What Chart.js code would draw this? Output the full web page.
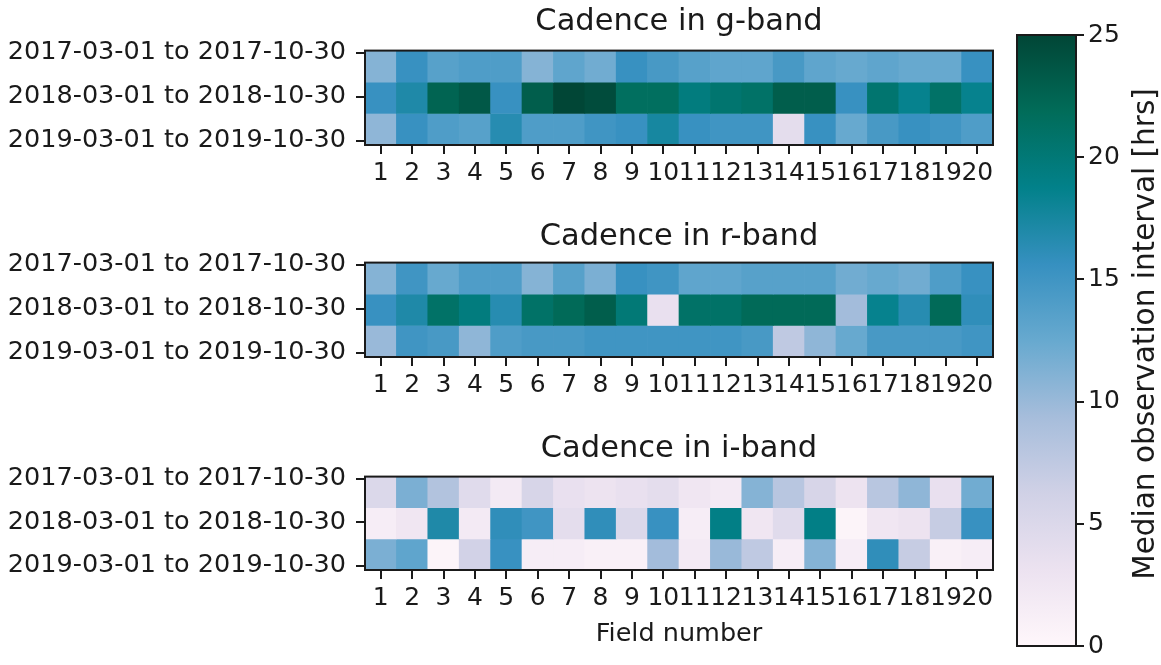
<!DOCTYPE html>
<html><head><meta charset="utf-8">
<script src="https://cdn.jsdelivr.net/npm/chart.js@4.4.1/dist/chart.umd.min.js"></script>
<style>
html,body{margin:0;padding:0;background:#fff;width:1161px;height:665px;overflow:hidden;}
.p{position:absolute;}
</style></head><body>
<div class="p" style="left:0;top:0;width:1000px;height:200px"><canvas id="cg"></canvas></div>
<div class="p" style="left:0;top:215px;width:1000px;height:197px"><canvas id="cr"></canvas></div>
<div class="p" style="left:0;top:427px;width:1000px;height:227px"><canvas id="ci"></canvas></div>
<div class="p" style="left:1000px;top:0;width:161px;height:665px"><canvas id="cb"></canvas></div>
<script>
const fields = ['1','2','3','4','5','6','7','8','9','10','11','12','13','14','15','16','17','18','19','20'];
const periods = ['2017-03-01 to 2017-10-30','2018-03-01 to 2018-10-30','2019-03-01 to 2019-10-30'];

const g2017 = [11, 15.5, 13.5, 14, 14, 11, 13, 12, 15.5, 14.5, 13.5, 13, 13, 14.5, 13, 12.5, 13, 12.5, 12.5, 15.5];
const g2018 = [15.5, 17, 22.5, 23.5, 15.5, 23, 25, 24.5, 21.5, 21.5, 19.5, 20.5, 21, 23, 23, 15.5, 20.5, 18.5, 21, 18.5];
const g2019 = [10.5, 15.5, 14, 13.5, 16.5, 14, 14, 15, 15.5, 17.5, 15.5, 15, 15, 4, 15.5, 12.5, 14.5, 15.5, 15, 14];

const r2017 = [11, 15, 12.5, 14, 14, 11, 13.5, 11.5, 15.5, 15, 13, 13, 13.5, 13.5, 13.5, 12, 12.5, 12, 14, 15.5];
const r2018 = [15.5, 17, 21, 19.5, 16.5, 21, 22, 23, 20, 3.5, 21, 21, 22, 22, 22, 9.5, 18.5, 16.5, 22, 16];
const r2019 = [10, 15, 14.5, 10.5, 14, 14.5, 14.5, 15, 15, 15, 15, 15, 14.5, 7.5, 10.5, 12.5, 14.5, 14.5, 14.5, 15];

const i2017 = [5, 11.5, 8.5, 4.5, 2, 5.5, 3.5, 3, 3.5, 4, 2.5, 2, 11, 8, 5.5, 3, 8, 10.5, 3.5, 12];
const i2018 = [1.5, 2.5, 17, 2, 16, 15, 4, 16, 5, 15.5, 1.5, 19, 2.5, 4.5, 19, 0.5, 2.5, 3, 7, 15.5];
const i2019 = [11.5, 13, 0.5, 6, 15.5, 1.5, 1.5, 1, 1, 9.5, 2, 10, 7.5, 1.5, 11, 1.5, 16, 7, 1, 1.5];

const colorbarTicks = [0, 5, 10, 15, 20, 25];
const vMin = 0, vMax = 25;
const colorbarLabel = 'Median observation interval [hrs]';

// PuBuGn colormap stops
const cmap = [[255,247,251],[236,226,240],[208,209,230],[166,189,219],[103,169,207],[54,144,192],[2,129,138],[1,108,89],[1,70,54]];
function colorFor(v){
  let t = (v - vMin) / (vMax - vMin); t = Math.max(0, Math.min(1, t));
  const p = t * (cmap.length - 1); const i = Math.min(cmap.length - 2, Math.floor(p)); const f = p - i;
  const c = cmap[i].map((a, k) => Math.round(a + (cmap[i+1][k] - a) * f));
  return `rgb(${c[0]},${c[1]},${c[2]})`;
}

const FONT = 'DejaVu Sans';
const INK = '#1a1a1a';
Chart.defaults.font.family = FONT;
Chart.defaults.color = INK;
Chart.defaults.animation = false;

const framePlugin = {id:'frame', afterDatasetsDraw(chart){
  const {ctx, chartArea:a} = chart; ctx.save(); ctx.strokeStyle = INK; ctx.lineWidth = 2;
  ctx.strokeRect(a.left, a.top, a.right - a.left, a.bottom - a.top); ctx.restore();
}};

const yMin = -0.05, yMax = 2.1;
function makeHeat(id, title, rows, titlePadBottom, xAxisHeight, xTitle){
  const step = (yMax - yMin) / rows.length;
  const datasets = rows.map((vals, r) => ({
    data: vals.map(() => [yMin + r * step, yMin + (r + 1) * step]),
    backgroundColor: vals.map(colorFor),
    borderWidth: 0, barPercentage: 1, categoryPercentage: 1, grouped: false
  }));
  new Chart(document.getElementById(id), {
    type: 'bar',
    data: {labels: fields, datasets},
    plugins: [framePlugin],
    options: {
      responsive: true, maintainAspectRatio: false,
      layout: {padding: {left: 0, right: 7, top: 0, bottom: 0}},
      plugins: {
        legend: {display: false}, tooltip: {enabled: false},
        title: {display: true, text: title, fullSize: false, color: INK,
          font: {family: FONT, size: 30.5, weight: 'normal', lineHeight: 1.2},
          padding: {top: 4, bottom: titlePadBottom}}
      },
      scales: {
        x: {type: 'category', offset: true,
          grid: {display: true, offset: false, drawOnChartArea: false, drawTicks: true, tickLength: 9, color: INK, lineWidth: 2},
          border: {display: false},
          ticks: {autoSkip: false, maxRotation: 0, minRotation: 0, padding: 4, color: INK, font: {family: FONT, size: 25}},
          title: {display: !!xTitle, text: xTitle || '', color: INK, font: {family: FONT, size: 25.5}, padding: {top: 0, bottom: 4}},
          afterFit: s => { s.height = xAxisHeight; }
        },
        y: {type: 'linear', min: yMin, max: yMax, reverse: true,
          afterBuildTicks: s => { s.ticks = [0, 1, 2].map(v => ({value: v})); },
          grid: {display: true, drawOnChartArea: false, drawTicks: true, tickLength: 9, color: INK, lineWidth: 2},
          border: {display: false},
          ticks: {padding: 10, color: INK, font: {family: FONT, size: 25.5}, callback: v => periods[Math.round(v)]},
          afterFit: s => { s.width = 365; }
        }
      }
    }
  });
}

makeHeat('cg', 'Cadence in g-band', [g2017, g2018, g2019], 10, 55);
makeHeat('cr', 'Cadence in r-band', [r2017, r2018, r2019], 7, 55);
makeHeat('ci', 'Cadence in i-band', [i2017, i2018, i2019], 9, 84, 'Field number');

const cbLabelPlugin = {id:'cbLabel', afterDraw(chart){
  const {ctx} = chart; ctx.save(); ctx.fillStyle = INK; ctx.font = `29.5px "${FONT}"`;
  ctx.textAlign = 'center'; ctx.textBaseline = 'middle';
  ctx.translate(146, 334); ctx.rotate(-Math.PI / 2); ctx.fillText(colorbarLabel, 0, 0); ctx.restore();
}};

new Chart(document.getElementById('cb'), {
  type: 'bar',
  data: {labels: ['cb'], datasets: [{
    data: [[vMin, vMax]], borderWidth: 0, barPercentage: 1, categoryPercentage: 1,
    backgroundColor: (c) => {
      const a = c.chart.chartArea; if (!a) return 'rgba(0,0,0,0)';
      const g = c.chart.ctx.createLinearGradient(0, a.bottom, 0, a.top);
      cmap.forEach((s, i) => g.addColorStop(i / (cmap.length - 1), `rgb(${s[0]},${s[1]},${s[2]})`));
      return g;
    }
  }]},
  plugins: [framePlugin, cbLabelPlugin],
  options: {
    responsive: true, maintainAspectRatio: false,
    layout: {padding: {left: 17, right: 0, top: 35, bottom: 7}},
    plugins: {legend: {display: false}, tooltip: {enabled: false}},
    scales: {
      x: {display: false, offset: true},
      y: {type: 'linear', position: 'right', min: vMin, max: vMax,
        afterBuildTicks: s => { s.ticks = colorbarTicks.map(v => ({value: v})); },
        grid: {display: true, drawOnChartArea: false, drawTicks: true, tickLength: 8, color: INK, lineWidth: 2},
        border: {display: false},
        ticks: {padding: 4, color: INK, font: {family: FONT, size: 25}},
        afterFit: s => { s.width = 85; }
      }
    }
  }
});
</script>
</body></html>
